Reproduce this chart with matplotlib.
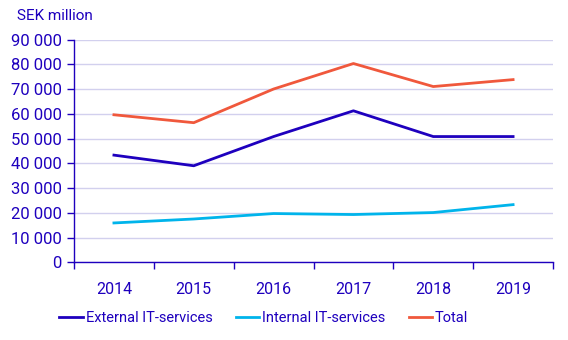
import numpy as np
import matplotlib.pyplot as plt
from matplotlib.ticker import FuncFormatter

plt.rcParams['font.family'] = ['Roboto', 'DejaVu Sans']

years = ['2014', '2015', '2016', '2017', '2018', '2019']
external = [43300, 39000, 50800, 61200, 50800, 50800]
internal = [15900, 17500, 19700, 19300, 20100, 23300]
total = [59600, 56400, 70000, 80300, 71000, 73800]

blue = '#1E00BE'
light_blue = '#00B4EB'
orange = '#F0583C'
grid = '#D2D0EE'

fig = plt.figure(figsize=(5.68, 3.4), dpi=100)
ax = fig.add_axes([0.1303, 0.2285, 0.8433, 0.6553])

x = np.arange(len(years))
ax.plot(x, external, color=blue, lw=2, label='External IT-services')
ax.plot(x, internal, color=light_blue, lw=2, label='Internal IT-services')
ax.plot(x, total, color=orange, lw=2, label='Total')

ax.set_xlim(-0.5, len(years) - 0.5)
ax.set_ylim(0, 90000)
ax.set_yticks(np.arange(0, 90001, 10000))
ax.yaxis.set_major_formatter(FuncFormatter(lambda v, p: f'{int(v):,}'.replace(',', ' ')))

# ticks at category boundaries, labels in the middle
ax.set_xticks(np.arange(-0.5, len(years)), minor=False)
ax.set_xticklabels([])
ax.set_xticks(x, minor=True)
ax.set_xticklabels(years, minor=True)
ax.tick_params(axis='x', which='major', length=5, color=blue, width=1)
ax.tick_params(axis='x', which='minor', length=0, pad=14, labelsize=11.5, labelcolor=blue)
ax.tick_params(axis='y', length=5, color=blue, width=1, labelsize=12, labelcolor=blue, pad=4)

ax.grid(axis='y', color=grid, lw=1)
ax.set_axisbelow(True)
for s in ['top', 'right']:
    ax.spines[s].set_visible(False)
for s in ['left', 'bottom']:
    ax.spines[s].set_color(blue)
    ax.spines[s].set_linewidth(1)

fig.text(17 / 568, 1 - 16 / 340, 'SEK million', color=blue, fontsize=11, va='center')

ax.legend(loc='center', bbox_to_anchor=(0.396, -0.25), ncol=3, frameon=False,
          fontsize=10.5, labelcolor=blue, handlelength=1.6, handletextpad=0.2,
          columnspacing=1.6)

fig.savefig('out.png', dpi=100)
